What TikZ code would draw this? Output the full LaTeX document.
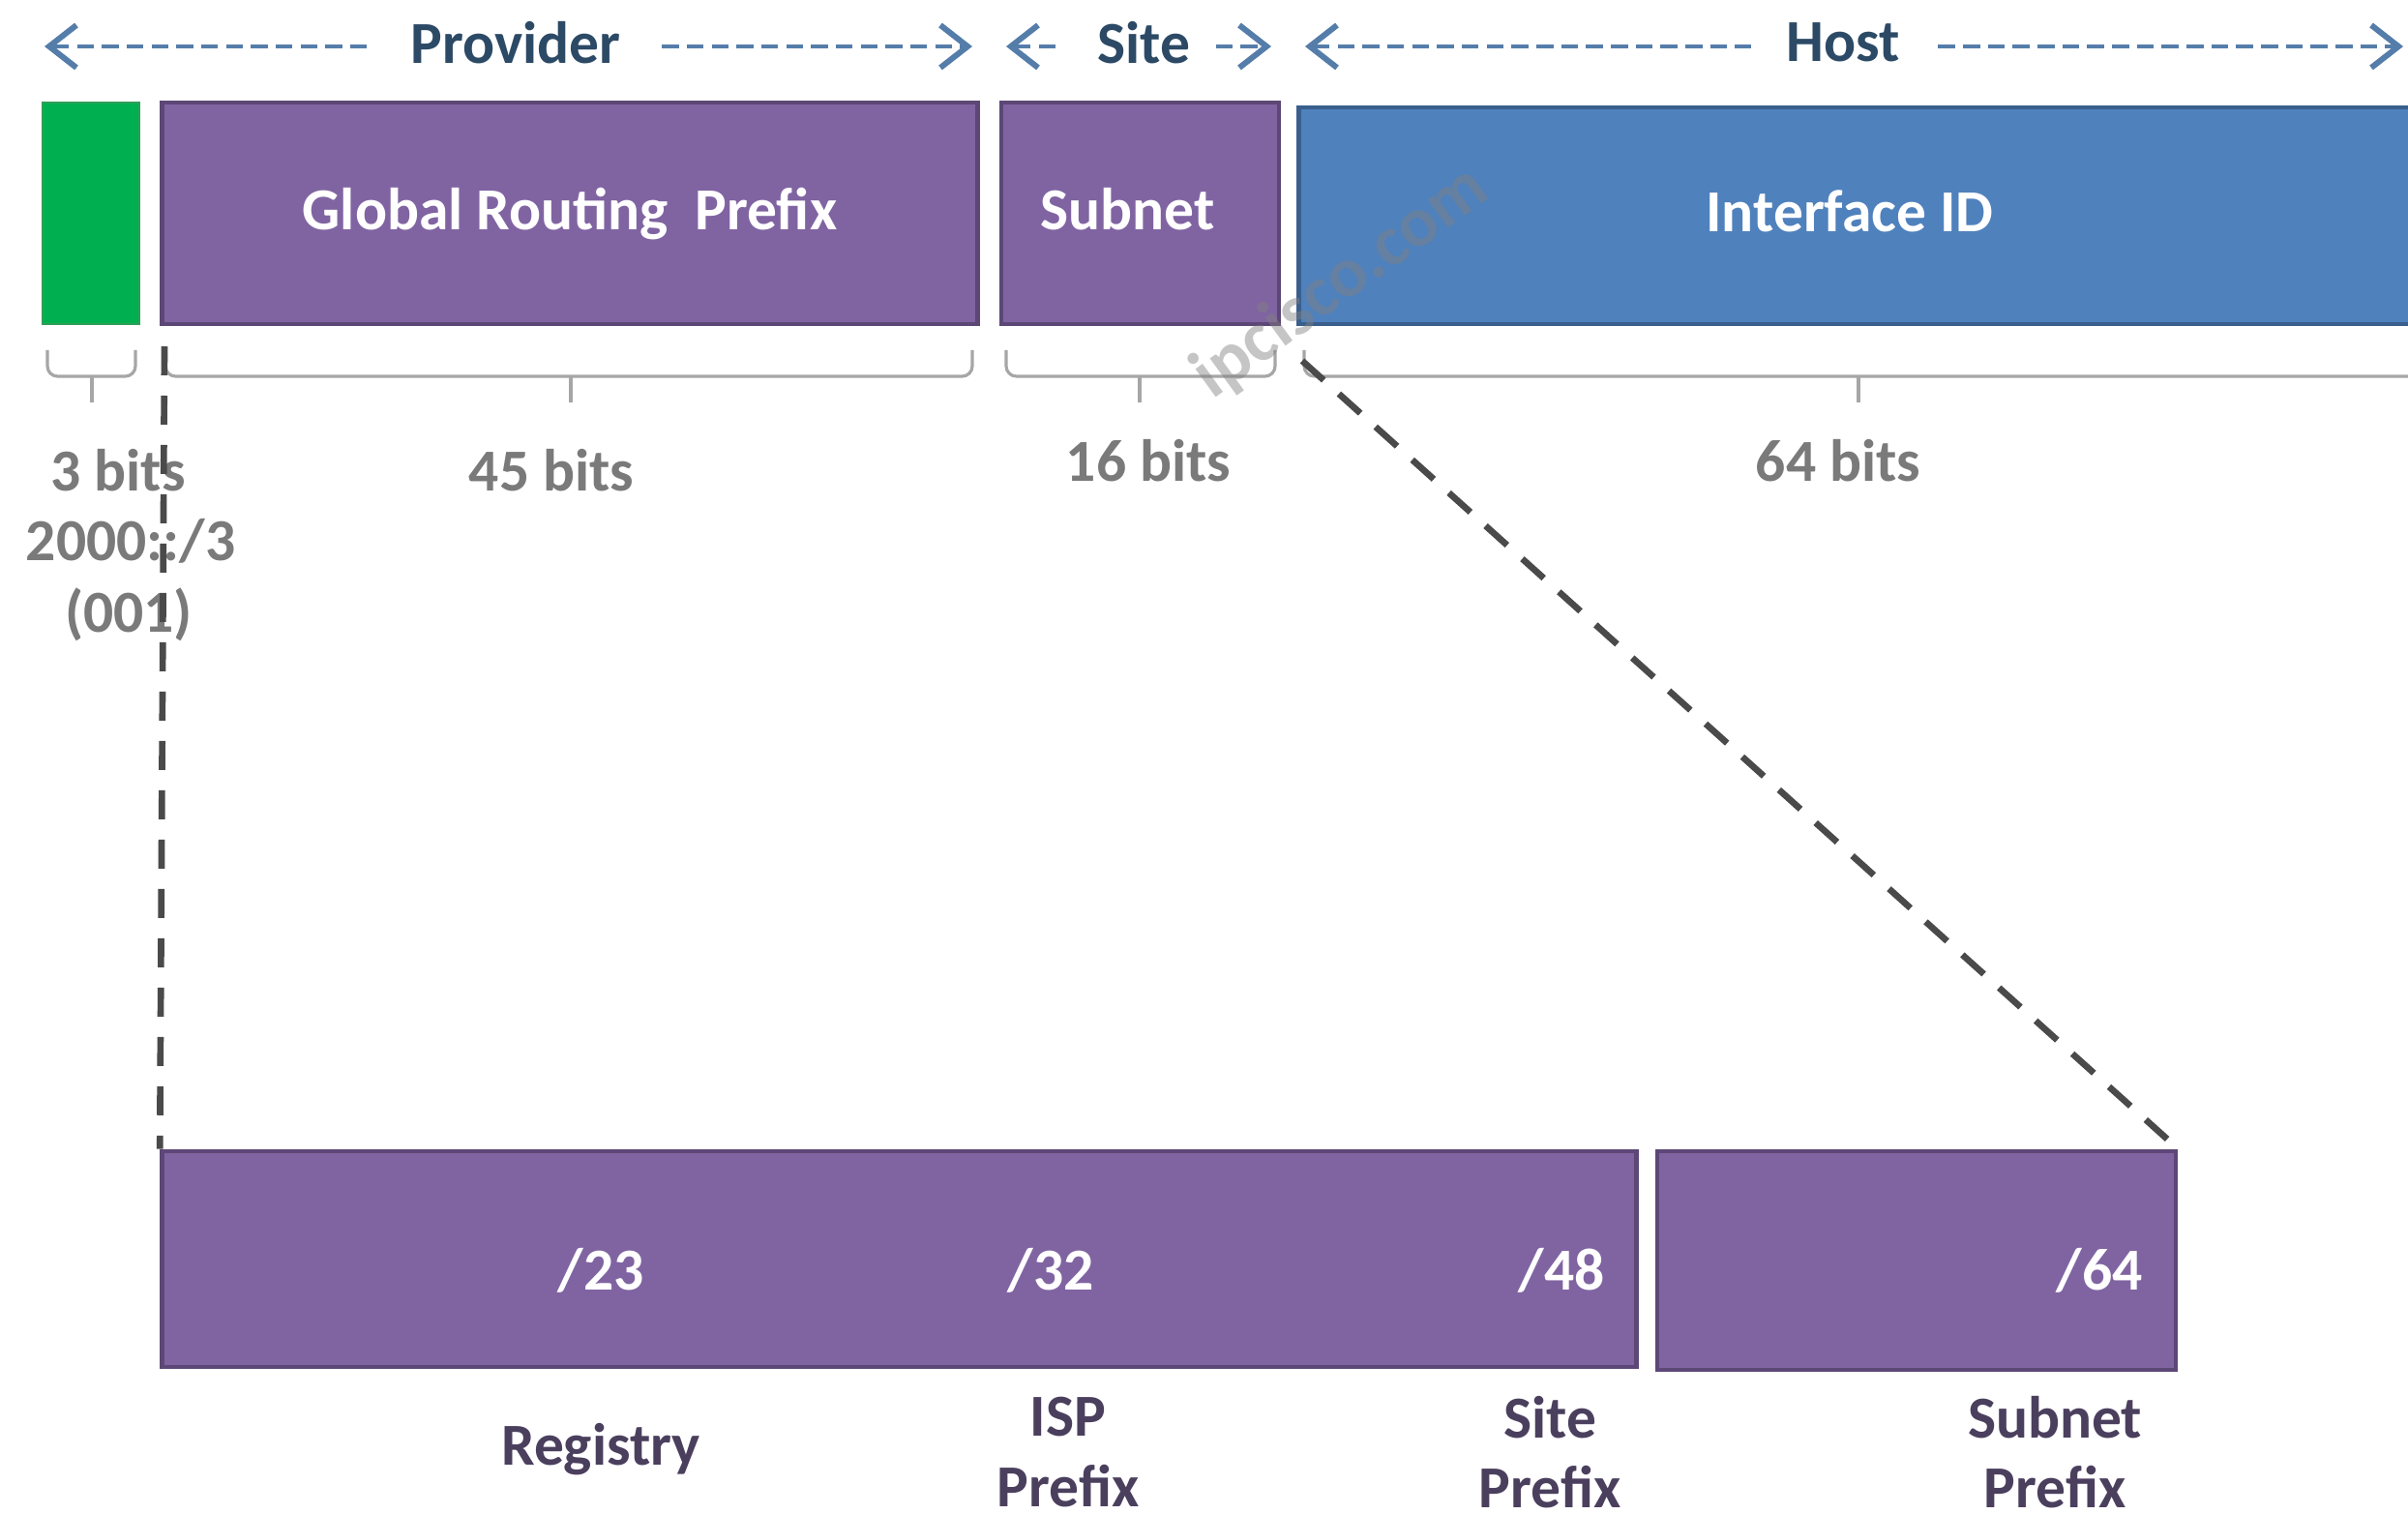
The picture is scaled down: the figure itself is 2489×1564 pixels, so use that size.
\documentclass[tikz,border=0pt]{standalone}
\usepackage{fontspec}
\setmainfont{Carlito}
\usetikzlibrary{arrows.meta}

\definecolor{fieldpurple}{HTML}{8064A2}
\definecolor{fieldpurpleline}{HTML}{5C4776}
\definecolor{fieldblue}{HTML}{4F81BD}
\definecolor{fieldblueline}{HTML}{3A5F8C}
\definecolor{fieldgreen}{HTML}{00B050}
\definecolor{fieldgreenline}{HTML}{2E9E57}
\definecolor{bracegray}{HTML}{A6A6A6}
\definecolor{bitsgray}{HTML}{7A7A7A}
\definecolor{headtext}{HTML}{2C4A66}
\definecolor{headarrow}{HTML}{557DAA}
\definecolor{prefixtext}{HTML}{4B3F5E}
\definecolor{zoomline}{HTML}{4A4A4A}

\tikzset{
  basefont/.style={font=\bfseries\fontsize{17.5}{20.5}\selectfont},
  field/.style={basefont, draw, line width=1.3pt, inner sep=0pt, text=white,
                minimum height=2.29cm, text height=14pt, text depth=4.5pt},
  purplefield/.style={field, fill=fieldpurple, draw=fieldpurpleline},
  bluefield/.style={field, fill=fieldblue, draw=fieldblueline},
  greenfield/.style={field, fill=fieldgreen, draw=fieldgreenline, line width=0.6pt},
  headlabel/.style={basefont, text=headtext, inner xsep=0pt, inner ysep=0pt},
  chevron/.tip={Straight Barb[length=8pt,width=12.5pt,line width=1.7pt]},
  headleft/.style={draw=headarrow, line width=1.4pt, dash pattern=on 5pt off 2.3pt,
                   arrows={chevron-}},
  headright/.style={draw=headarrow, line width=1.4pt, dash pattern=on 5pt off 2.3pt,
                    arrows={-chevron}},
  bracefield/.style={draw=bracegray, line width=0.9pt, rounded corners=3pt},
  bitslabel/.style={basefont, text=bitsgray, inner sep=0pt},
  prefixmark/.style={basefont, text=white, inner sep=0pt},
  prefixname/.style={basefont, text=prefixtext, align=center, inner sep=0pt},
  zoomguide/.style={draw=zoomline, line width=1.9pt, dash pattern=on 8.5pt off 6pt},
}

\begin{document}
\begin{tikzpicture}[x=0.01cm, y=-0.01cm]
  \useasboundingbox[fill=white] (0,0) rectangle (2489,1564);
  \begin{scope}
    \clip (0,0) rectangle (2489,1564);

    % upper row: the 128-bit address split into its fields
    \node[greenfield, minimum width=1.00cm] (prefix3) at (94,220.5) {};
    \node[purplefield, minimum width=8.42cm] (grp) at (589,220.5) {Global Routing~ Prefix};
    \node[purplefield, minimum width=2.87cm] (subnet) at (1178.5,220.5) {Subnet\kern0.26cm};
    \node[bluefield, minimum width=11.57cm, minimum height=2.24cm] (iid) at (1921.5,223) {Interface ID\kern0.19cm};

    % section headers with their range arrows
    \node[headlabel] (prov) at (533,44) {Provider};
    \coordinate (provL) at (46,48);
    \coordinate (provR) at (1005,48);
    \draw[headleft] (provL) -- ([xshift=-0.39cm]provL -| prov.west);
    \draw[headright] ([xshift=0.42cm]provR -| prov.east) -- (provR);

    \node[headlabel] (site) at (1182,44) {Site};
    \coordinate (siteL) at (1040,48);
    \coordinate (siteR) at (1314,48);
    \draw[headleft] (siteL) -- ([xshift=-0.39cm]siteL -| site.west);
    \draw[headright] ([xshift=0.26cm]siteR -| site.east) -- (siteR);

    \node[headlabel] (host) at (1905,44) {Host};
    \coordinate (hostL) at (1349,48);
    \coordinate (hostR) at (2484,48);
    \draw[headleft] (hostL) -- ([xshift=-0.36cm]hostL -| host.west);
    \draw[headright] ([xshift=0.39cm]hostR -| host.east) -- (hostR);

    % braces under each field
    \draw[bracefield] (49,362) -- (49,389) -- (140,389) -- (140,362);
    \draw[bracegray, line width=0.9pt] (95,389) -- (95,416);
    \draw[bracefield] (171,362) -- (171,389) -- (1005,389) -- (1005,362);
    \draw[bracegray, line width=0.9pt] (590,389) -- (590,416);
    \draw[bracefield] (1040,362) -- (1040,389) -- (1318,389) -- (1318,362);
    \draw[bracegray, line width=0.9pt] (1178,389) -- (1178,416);
    \draw[bracefield] (1348,362) -- (1348,389) -- (2520,389);
    \draw[bracegray, line width=0.9pt] (1921,389) -- (1921,416);

    % bit counts
    \node[bitslabel] (b3) at (122,486) {3 bits};
    \node[bitslabel] (b3hex) at (135,559) {2000::/3};
    \node[bitslabel] (b3bin) at (133,635) {(001)};
    \node[bitslabel] (b45) at (570,486) {45 bits};
    \node[bitslabel] (b16) at (1187,476) {16 bits};
    \node[bitslabel] (b64) at (1900,476) {64 bits};

    % lower row: the 64-bit prefix in detail
    \node[purplefield, minimum width=15.23cm, minimum height=2.23cm] (lowA) at (929.5,1301.5) {};
    \node[purplefield, minimum width=5.36cm, minimum height=2.26cm] (lowB) at (1981,1303) {};

    \node[prefixmark] (p23) at (621,1313) {/23};
    \node[prefixmark] (p32) at (1086,1313) {/32};
    \node[prefixmark] (p48) at (1614,1313) {/48};
    \node[prefixmark] (p64) at (2170,1313) {/64};

    \node[prefixname] (reg) at (621,1498) {Registry};
    \node[prefixname] (isp) at (1104,1501) {ISP\\Prefix};
    \node[prefixname] (sitep) at (1602,1501) {Site\\Prefix};
    \node[prefixname] (subp) at (2124,1501) {Subnet\\Prefix};

    % dashed guides from the upper row down to the detailed prefix
    \coordinate (guideA) at (170,358);
    \coordinate (guideB) at (1346,373);
    \draw[zoomguide] (guideA) -- (lowA.north west);
    \draw[zoomguide] (guideB) -- (lowB.north east);

    % site watermark
    \node[font=\bfseries\fontsize{21}{24}\selectfont, text=gray, opacity=0.45, rotate=36, inner sep=0pt]
      (mark) at (1386,292) {ipcisco.com};
  \end{scope}
\end{tikzpicture}
\end{document}
